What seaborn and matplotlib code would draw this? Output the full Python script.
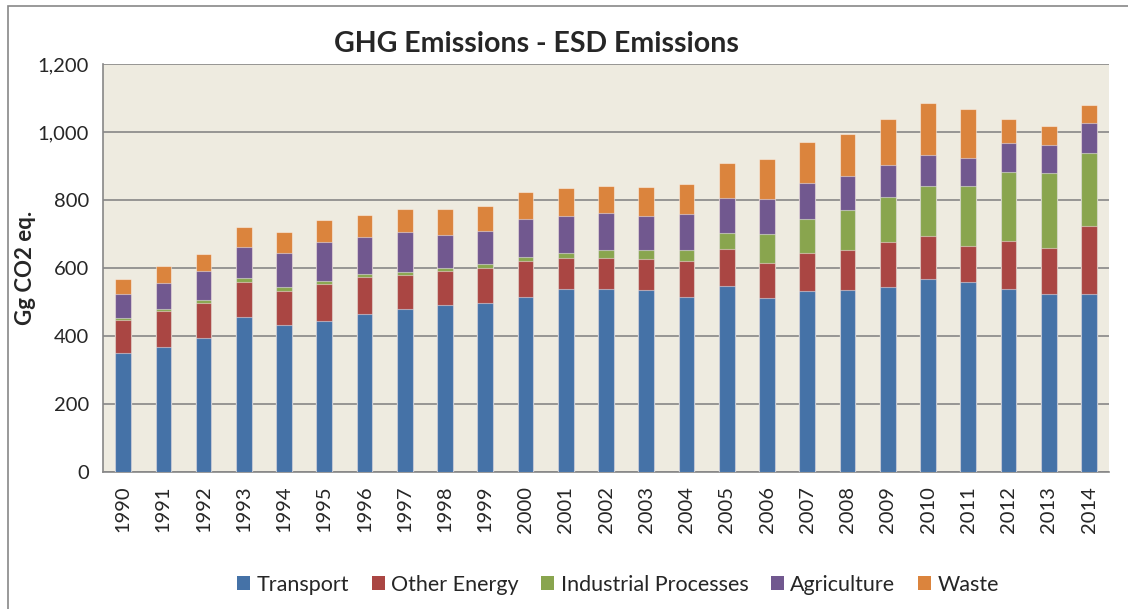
import matplotlib
matplotlib.use("Agg")
import matplotlib.pyplot as plt
import numpy as np
import pandas as pd
import seaborn as sns
from matplotlib.patches import Patch, Rectangle
from matplotlib.ticker import FuncFormatter, MultipleLocator

# --- data (Gg CO2 eq.) ---
years = [str(y) for y in range(1990, 2015)]
transport = [349, 368, 393, 457, 431, 445, 465, 479, 492, 498, 516, 539, 539,
             535, 514, 546, 513, 532, 536, 544, 569, 558, 538, 523, 523]
other_energy = [97, 104, 103, 103, 102, 109, 108, 100, 99, 103, 105, 89, 90,
                91, 106, 110, 101, 111, 118, 131, 124, 106, 140, 135, 199]
industrial = [6, 7, 10, 10, 10, 9, 9, 9, 8, 10, 11, 16, 23,
              26, 34, 47, 86, 102, 117, 134, 149, 176, 205, 222, 217]
agriculture = [72, 78, 86, 93, 102, 113, 108, 118, 99, 98, 113, 109, 109,
               101, 105, 104, 104, 104, 98, 93, 91, 83, 84, 83, 86]
waste = [43, 48, 48, 56, 60, 65, 66, 67, 75, 73, 79, 81, 80,
         85, 89, 101, 115, 120, 124, 137, 152, 144, 71, 55, 54]

series_names = ["Transport", "Other Energy", "Industrial Processes", "Agriculture", "Waste"]
series_values = [transport, other_energy, industrial, agriculture, waste]
series_colors = ["#4572A7", "#AA4643", "#89A54E", "#71588F", "#DB843D"]

sns.set_theme(style="white")
plt.rcParams["font.family"] = ["Lato", "DejaVu Sans"]

fig = plt.figure(figsize=(11.28, 6.09), dpi=100)
ax = fig.add_axes([0.0913, 0.225, 0.892, 0.670])
ax.set_facecolor("#EEEBE0")

# stacked bars: draw cumulative totals from the top series down
df = pd.DataFrame({"year": years})
cum = np.cumsum(np.array(series_values), axis=0)
for i in range(len(series_names) - 1, -1, -1):
    df["cum"] = cum[i]
    sns.barplot(data=df, x="year", y="cum", color=series_colors[i], saturation=1,
                width=0.39, edgecolor=(1, 1, 1, 0.45), linewidth=0.8,
                errorbar=None, ax=ax, zorder=3)

ax.set_xlim(-0.5, len(years) - 0.5)
ax.set_ylim(0, 1200)
ax.yaxis.set_major_locator(MultipleLocator(200))
ax.yaxis.set_major_formatter(FuncFormatter(lambda v, _: f"{int(v):,}"))
ax.grid(axis="y", color="#878787", linewidth=1.2, zorder=1)
ax.set_axisbelow(True)

for s in ["top", "right"]:
    ax.spines[s].set_visible(False)
for s in ["left", "bottom"]:
    ax.spines[s].set_color("#878787")
    ax.spines[s].set_linewidth(1.2)

ax.set_xticks(range(len(years)))
ax.set_xticklabels(years, rotation=90, fontsize=14.5)
ax.set_xticks(np.arange(-0.5, len(years), 1), minor=True)
ax.tick_params(axis="x", which="major", length=0, pad=10)
ax.tick_params(axis="x", which="minor", length=6, width=1.2, color="#878787", direction="out")
ax.tick_params(axis="y", length=6, width=1.2, color="#878787", direction="out", labelsize=14.5, pad=4)
ax.set_xlabel("")
ax.set_ylabel("Gg CO2 eq.", fontsize=16, fontweight="bold", labelpad=1)

fig.text(0.476, 0.927, "GHG Emissions - ESD Emissions", ha="center", va="center",
         fontsize=20.5, fontweight="bold")

handles = [Patch(facecolor=c, edgecolor="none") for c in series_colors]
fig.legend(handles, series_names, loc="center", bbox_to_anchor=(0.548, 0.04), ncol=5,
           frameon=False, fontsize=15.5, handlelength=0.6, handleheight=0.6,
           handletextpad=0.3, columnspacing=1.05)

# outer chart border (left and top edges visible)
fig.patches.append(Rectangle((0.007, -0.01), 1.1, 1.0, transform=fig.transFigure,
                             fill=False, edgecolor="#878787", linewidth=1.2))

fig.savefig("out.png", dpi=100)
